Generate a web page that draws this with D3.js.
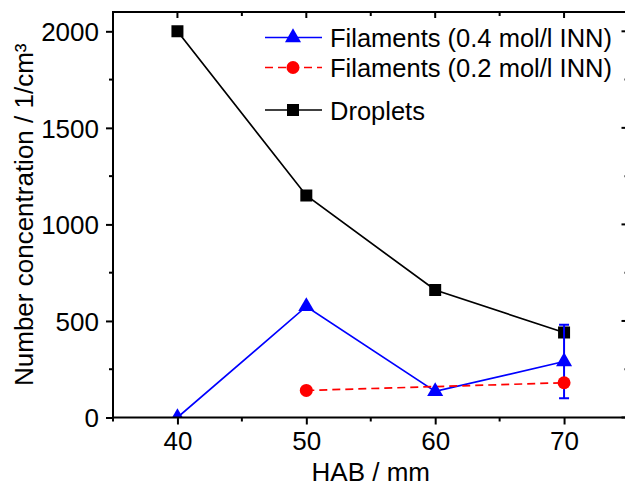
<!DOCTYPE html>
<html>
<head>
<meta charset="utf-8">
<script src="https://cdn.jsdelivr.net/npm/d3@7"></script>
<style>
    body { margin: 0; background: #fff; }
    svg text { font-family: "Liberation Sans", Arial, sans-serif; fill: #000; }
</style>
</head>
<body>
<svg id="chart" width="625" height="486"></svg>
<script>
// HAB positions and measured concentrations
const hab = [40, 50, 60, 70];
const droplets = [2000, 1150, 660, 440];
const filaments04 = [0, 575, 135, 290];
const filaments04Err = [0, 0, 0, 190];
const habFil02 = [50, 70];
const filaments02 = [140, 180];

const xTicks = [40, 50, 60, 70];
const xMinor = [35, 45, 55, 65, 75];
const yTicks = [0, 500, 1000, 1500, 2000];
const yMinor = [250, 750, 1250, 1750];

const legendItems = [
    {'text': 'Filaments (0.4 mol/l INN)', 'color': '#0000ff', 'symbol': 'triangle', 'dash': null},
    {'text': 'Filaments (0.2 mol/l INN)', 'color': '#ff0000', 'symbol': 'circle', 'dash': '8,5'},
    {'text': 'Droplets', 'color': '#000000', 'symbol': 'square', 'dash': null}
];

var svg = d3.select('#chart');
// note: "top" is taken by window.top, so use pL/pR/pT/pB
var pL = 113, pR = 628.5, pT = 12, pB = 417.5;

var x = d3.scaleLinear().domain([35, 75]).range([pL, pR]);
var y = d3.scaleLinear().domain([0, 2100]).range([pB, pT]);

var symbols = {
    'triangle': d3.symbol().type(d3.symbolTriangle).size(112),
    'circle': d3.symbol().type(d3.symbolCircle).size(133),
    'square': d3.symbol().type(d3.symbolSquare).size(144)
};

svg.append('clipPath')
    .attr('id', 'plotClip')
    .append('rect')
    .attr('x', pL)
    .attr('y', pT)
    .attr('width', pR - pL)
    .attr('height', pB - pT);

var plot = svg.append('g').attr('clip-path', 'url(#plotClip)');

// axes
var xAxis = svg.append('g')
    .attr('transform', 'translate(0,' + pB + ')')
    .call(d3.axisBottom(x).tickValues(xTicks).tickSize(7).tickSizeOuter(0).tickPadding(7));
var yAxis = svg.append('g')
    .attr('transform', 'translate(' + pL + ',0)')
    .call(d3.axisLeft(y).tickValues(yTicks).tickFormat(d3.format('d')).tickSize(7).tickSizeOuter(0).tickPadding(7));

[xAxis, yAxis].forEach(function(a) {
    a.select('.domain').remove();
    a.selectAll('.tick line').attr('stroke', '#000').attr('stroke-width', 2);
    a.selectAll('.tick text')
        .attr('fill', '#000')
        .style('font-size', '26px')
        .style('font-family', '"Liberation Sans", Arial, sans-serif');
});
xAxis.selectAll('.tick text').attr('dy', '0.72em');
yAxis.selectAll('.tick text').attr('dy', '0.36em');

// minor ticks, top and right mirrored ticks point inward
var ticks = svg.append('g').attr('stroke', '#000').attr('stroke-width', 2);
ticks.selectAll('.xminor').data(xMinor).enter().append('line')
    .attr('x1', function(d) { return x(d); }).attr('x2', function(d) { return x(d); })
    .attr('y1', pB).attr('y2', pB + 4);
ticks.selectAll('.yminor').data(yMinor).enter().append('line')
    .attr('x1', pL - 4).attr('x2', pL)
    .attr('y1', function(d) { return y(d); }).attr('y2', function(d) { return y(d); });
ticks.selectAll('.xtop').data(xTicks.concat(xMinor)).enter().append('line')
    .attr('x1', function(d) { return x(d); }).attr('x2', function(d) { return x(d); })
    .attr('y1', pT).attr('y2', function(d) { return xTicks.indexOf(d) >= 0 ? pT + 6 : pT + 4; });
ticks.selectAll('.yright').data(yTicks.concat(yMinor)).enter().append('line')
    .attr('x1', function(d) { return yTicks.indexOf(d) >= 0 ? pR - 7 : pR - 4; }).attr('x2', pR)
    .attr('y1', function(d) { return y(d); }).attr('y2', function(d) { return y(d); });

svg.append('rect')
    .attr('x', pL)
    .attr('y', pT)
    .attr('width', pR - pL)
    .attr('height', pB - pT)
    .attr('fill', 'none')
    .attr('stroke', '#000')
    .attr('stroke-width', 2);

// series
var line = d3.line()
    .x(function(d) { return x(d[0]); })
    .y(function(d) { return y(d[1]); });

var dropData = d3.zip(hab, droplets);
var fil04Data = d3.zip(hab, filaments04, filaments04Err);
var fil02Data = d3.zip(habFil02, filaments02);

plot.append('path')
    .datum(dropData)
    .attr('d', line)
    .attr('fill', 'none')
    .attr('stroke', '#000')
    .attr('stroke-width', 1.7);

plot.append('path')
    .datum(fil04Data)
    .attr('d', line)
    .attr('fill', 'none')
    .attr('stroke', '#0000ff')
    .attr('stroke-width', 1.7);

plot.append('path')
    .datum(fil02Data)
    .attr('d', line)
    .attr('fill', 'none')
    .attr('stroke', '#ff0000')
    .attr('stroke-width', 1.7)
    .attr('stroke-dasharray', '8,5');

plot.selectAll('.drop').data(dropData).enter().append('path')
    .attr('d', symbols.square)
    .attr('transform', function(d) { return 'translate(' + x(d[0]) + ',' + y(d[1]) + ')'; })
    .attr('fill', '#000');

// error bar on the 0.4 mol/l filaments
var errs = fil04Data.filter(function(d) { return d[2] > 0; });
var eb = plot.selectAll('.err').data(errs).enter().append('g')
    .attr('stroke', '#0000ff')
    .attr('stroke-width', 2);
eb.append('line')
    .attr('x1', function(d) { return x(d[0]); }).attr('x2', function(d) { return x(d[0]); })
    .attr('y1', function(d) { return y(d[1] + d[2]); }).attr('y2', function(d) { return y(d[1] - d[2]); });
eb.append('line')
    .attr('x1', function(d) { return x(d[0]) - 5; }).attr('x2', function(d) { return x(d[0]) + 5; })
    .attr('y1', function(d) { return y(d[1] + d[2]); }).attr('y2', function(d) { return y(d[1] + d[2]); });
eb.append('line')
    .attr('x1', function(d) { return x(d[0]) - 5; }).attr('x2', function(d) { return x(d[0]) + 5; })
    .attr('y1', function(d) { return y(d[1] - d[2]); }).attr('y2', function(d) { return y(d[1] - d[2]); });

plot.selectAll('.fil04').data(fil04Data).enter().append('path')
    .attr('d', symbols.triangle)
    .attr('transform', function(d) { return 'translate(' + x(d[0]) + ',' + y(d[1]) + ')'; })
    .attr('fill', '#0000ff');

plot.selectAll('.fil02').data(fil02Data).enter().append('path')
    .attr('d', symbols.circle)
    .attr('transform', function(d) { return 'translate(' + x(d[0]) + ',' + y(d[1]) + ')'; })
    .attr('fill', '#ff0000');

// legend
var legendY = [37.5, 67.5, 110];
var legend = svg.selectAll('.legend').data(legendItems).enter().append('g')
    .attr('transform', function(d, i) { return 'translate(0,' + legendY[i] + ')'; });
legend.append('line')
    .attr('x1', 265).attr('x2', 322)
    .attr('stroke', function(d) { return d.color; })
    .attr('stroke-width', 1.7)
    .attr('stroke-dasharray', function(d) { return d.dash; });
legend.append('path')
    .attr('d', function(d) { return symbols[d.symbol](); })
    .attr('transform', 'translate(293,0)')
    .attr('fill', function(d) { return d.color; });
legend.append('text')
    .attr('x', 330)
    .attr('y', 9.5)
    .style('font-size', '25.5px')
    .text(function(d) { return d.text; });

// axis titles
svg.append('text')
    .attr('x', (pL + pR) / 2)
    .attr('y', 481)
    .attr('text-anchor', 'middle')
    .style('font-size', '26px')
    .text('HAB / mm');

svg.append('text')
    .attr('transform', 'translate(33,' + (pT + pB) / 2 + ') rotate(-90)')
    .attr('text-anchor', 'middle')
    .style('font-size', '26px')
    .text('Number concentration / 1/cm³');
</script>
</body>
</html>
